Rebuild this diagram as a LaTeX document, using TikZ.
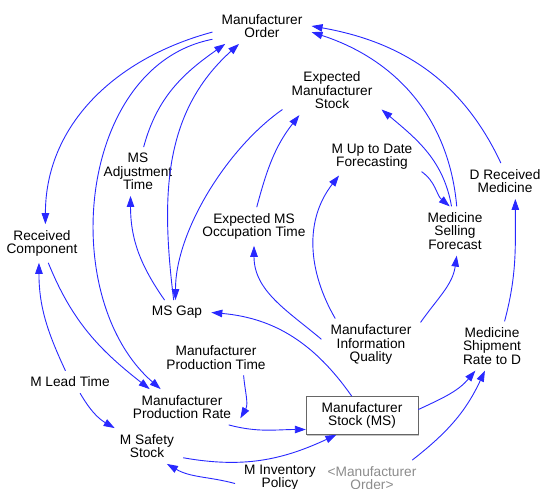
\documentclass[tikz,border=0pt]{standalone}
\usepackage{fontspec}
\setmainfont{Liberation Sans}
\usetikzlibrary{arrows.meta,shadows}
\definecolor{linkblue}{RGB}{40,40,255}

\begin{document}
\begin{tikzpicture}[x=1pt,y=1pt,
	var/.style={align=center,inner xsep=9pt,inner ysep=6pt,font=\fontsize{13.7}{13.4}\selectfont},
	lvl/.style={var,draw=black!60,fill=white,minimum width=112pt,minimum height=37pt,
		drop shadow={shadow xshift=1.2pt,shadow yshift=-1.2pt,fill=black!45}},
	flow/.style={draw=linkblue,line width=0.9pt,-{Triangle[length=11pt,width=7.5pt]}}]
	\useasboundingbox (0,0) rectangle (541,488);
	%
	\node[var] (ord) at (262,462) {Manufacturer\\Order};
	\node[var] (ems) at (332,397.5) {Expected\\Manufacturer\\Stock};
	\node[var] (adj) at (138,316.5) {MS\\Adjustment\\Time};
	\node[var] (upd) at (372,331.5) {M Up to Date\\Forecasting};
	\node[var] (eot) at (254,261.5) {Expected MS\\Occupation Time};
	\node[var] (drm) at (505,307) {D Received\\Medicine};
	\node[var] (msf) at (455,257) {Medicine\\Selling\\Forecast};
	\node[var] (rc) at (42,244.5) {Received\\Component};
	\node[var] (gap) at (177,175.5) {MS Gap};
	%
	\node[var] (miq) at (371,143.5) {Manufacturer\\Information\\Quality};
	\node[var] (msr) at (492,142) {Medicine\\Shipment\\Rate to D};
	\node[var] (mpt) at (216,130.5) {Manufacturer\\Production Time};
	\node[var] (mlt) at (70,106) {M Lead Time};
	\node[var] (mpr) at (182,81) {Manufacturer\\Production Rate};
	\node[lvl] (ms) at (362,72.5) {Manufacturer\\Stock (MS)};
	\node[var] (mss) at (147,42) {M Safety\\Stock};
	\node[var] (mip) at (280,10) {M Inventory\\Policy};
	\node[var,text=black!45] (mor) at (372,10) {<Manufacturer\\Order>};
	%
	\draw[flow] (ord.187) to[out=195,in=90] (rc.80);
	\draw[flow] (ord.195) to[out=191,in=139] (mpr.140);
	\draw[flow] (rc.288) to[out=292,in=142] (mpr.151);
	\draw[flow] (adj.77) to[out=75,in=215] (ord.206);
	\draw[flow] (gap.105) to[out=97,in=222] (ord.218);
	\draw[flow] (gap.135) to[out=125,in=270] (adj.253);
	\draw[flow] (eot.82) to[out=75,in=232] (ems.217);
	\draw[flow] (ems.201) to[out=215,in=90,looseness=0.8] (gap.97);
	\draw[flow] (ms.118) to[out=125,in=355] (gap.0);
	%
	\draw[flow] (miq.174) to[out=140,in=270] (eot.270);
	\draw[flow] (miq.144) to[out=120,in=232] (upd.210);
	\draw[flow] (miq.24) to[out=55,in=262] (msf.274);
	\draw[flow] (upd.343) to[out=-35,in=140] (msf.102);
	\draw[flow] (msf.98) to[out=100,in=320] (ems.339);
	\draw[flow] (msf.86) to[out=95,in=342] (ord.353);
	\draw[flow] (drm.103) to[out=115,in=350] (ord.0);
	\draw[flow] (msr.63) to[out=75,in=270] (drm.300);
	%
	\draw[flow] (ms.6) to[out=25,in=230] (msr.236);
	\draw[flow] (mor.24) to[out=38,in=245] (msr.254);
	\draw[flow] (mpr.339) to[out=-15,in=180] (ms.194);
	\draw[flow] (mss.342) to[out=-10,in=205] (ms.217);
	\draw[flow] (mip.187) to[out=165,in=330] (mss.318);
	\draw[flow] (mpt.327) to[out=-85,in=60] (mpr.349);
	\draw[flow] (mlt.112) to[out=115,in=270] (rc.261);
	\draw[flow] (mlt.312) to[out=-60,in=150] (mss.151);
\end{tikzpicture}
\end{document}
